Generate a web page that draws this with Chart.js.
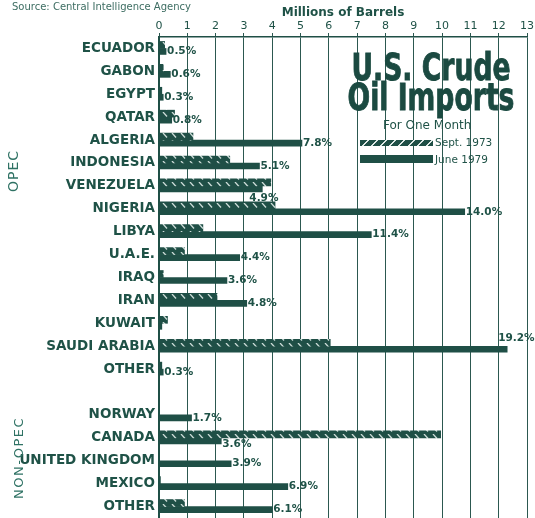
<!DOCTYPE html>
<html>
<head>
<meta charset="utf-8">
<script src="https://cdn.jsdelivr.net/npm/chart.js@4.4.1/dist/chart.umd.min.js"></script>
<style>
  html, body { margin:0; padding:0; background:#fff; }
  #wrap { position:relative; width:535px; height:518px; overflow:hidden; background:#fff; }
  #c { position:absolute; left:0; top:0; }
  .t { position:absolute; white-space:nowrap; color:#1f5247; font-family:"DejaVu Sans", sans-serif; }
  .rot { transform:translate(-50%,-50%) rotate(-90deg); transform-origin:center; }
</style>
</head>
<body>
<div id="wrap">
  <canvas id="c" width="535" height="518"></canvas>
  <div class="t" style="left:12px;top:1px;font-size:10px;color:#3d6d62;">Source: Central Intelligence Agency</div>
  <div class="t rot" style="left:13px;top:171px;font-size:14px;letter-spacing:1px;color:#2f7264;">OPEC</div>
  <div class="t rot" style="left:18px;top:458px;font-size:13px;letter-spacing:1.5px;color:#2f7264;">NON-OPEC</div>
  <div class="t" id="ttl" style="left:281px;top:53px;width:300px;text-align:center;font-size:37px;font-weight:bold;line-height:30px;color:#1b4a41;-webkit-text-stroke:0.9px #1b4a41;transform:scaleX(0.72);transform-origin:center;">U.S. Crude<br>Oil Imports</div>
  <div class="t" style="left:383px;top:118px;font-size:12px;">For One Month</div>
  <div style="position:absolute;left:360px;top:140px;width:73px;height:6px;background:repeating-linear-gradient(135deg,#1f4f46 0px,#1f4f46 5px,#dfe9e6 5px,#dfe9e6 6.5px);"></div>
  <div class="t" style="left:435px;top:136px;font-size:10.5px;">Sept. 1973</div>
  <div style="position:absolute;left:360px;top:155px;width:73px;height:8px;background:#1f4f46;"></div>
  <div class="t" style="left:435px;top:153px;font-size:10.5px;">June 1979</div>
</div>
<script>
// ---- data ----
const categories = ['ECUADOR','GABON','EGYPT','QATAR','ALGERIA','INDONESIA','VENEZUELA','NIGERIA','LIBYA','U.A.E.','IRAQ','IRAN','KUWAIT','SAUDI ARABIA','OTHER','','NORWAY','CANADA','UNITED KINGDOM','MEXICO','OTHER'];
const sept1973 = [0.2, 0.15, 0.1, 0.55, 1.2, 2.5, 3.95, 4.1, 1.55, 0.9, 0.15, 2.05, 0.3, 6.05, 0.1, null, 0, 9.95, 0, 0.05, 0.9];
const june1979 = [0.25, 0.4, 0.15, 0.45, 5.05, 3.55, 3.65, 10.8, 7.5, 2.85, 2.4, 3.1, 0.1, 12.3, 0.15, null, 1.15, 2.2, 2.55, 4.55, 4.0];
const pctLabels = ['0.5%','0.6%','0.3%','0.8%','7.8%','5.1%','4.9%','14.0%','11.4%','4.4%','3.6%','4.8%','','19.2%','0.3%','','1.7%','3.6%','3.9%','6.9%','6.1%'];
const xTicks = [0,1,2,3,4,5,6,7,8,9,10,11,12,13];

// ---- styles ----
const INK = '#1f4f46';
const TXT = '#1f5247';
const GRID = '#2c5850';
const labelOffsets = { 6: {dx:-14, dy:9}, 13: {dx:-10, dy:-11}, 17: {dx:0, dy:3} };

function hatch() {
  const pc = document.createElement('canvas');
  pc.width = 9; pc.height = 7;
  const p = pc.getContext('2d');
  p.fillStyle = INK; p.fillRect(0,0,9,7);
  p.strokeStyle = 'rgba(225,236,233,0.9)';
  p.lineWidth = 1.3;
  p.beginPath(); p.moveTo(1,0); p.lineTo(5,4.5); p.stroke();
  return p.createPattern(pc, 'repeat');
}

const pctPlugin = {
  id: 'pct',
  afterDatasetsDraw(chart) {
    const ctx = chart.ctx;
    const meta = chart.getDatasetMeta(1);
    ctx.save();
    ctx.font = 'bold 10.5px "DejaVu Sans"';
    ctx.fillStyle = TXT;
    ctx.textBaseline = 'middle';
    ctx.textAlign = 'left';
    meta.data.forEach((el, i) => {
      const lab = pctLabels[i];
      if (!lab) return;
      const o = labelOffsets[i] || {dx:0, dy:0};
      ctx.fillText(lab, el.x + 1 + o.dx, el.y + o.dy);
    });
    ctx.restore();
  }
};

new Chart(document.getElementById('c'), {
  type: 'bar',
  data: {
    labels: categories,
    datasets: [
      { label: 'Sept. 1973', data: sept1973, backgroundColor: hatch(), barThickness: 7, borderWidth: 0 },
      { label: 'June 1979', data: june1979, backgroundColor: INK, barThickness: 6, borderWidth: 0 }
    ]
  },
  options: {
    indexAxis: 'y',
    responsive: false,
    animation: false,
    devicePixelRatio: 1,
    layout: { padding: { left: 0, right: 8, top: 0, bottom: -2 } },
    plugins: { legend: { display: false }, tooltip: { enabled: false } },
    scales: {
      x: {
        type: 'linear',
        position: 'top',
        min: 0, max: 13,
        afterBuildTicks: (s) => { s.ticks = xTicks.map(v => ({ value: v })); },
        ticks: { color: TXT, font: { family: 'DejaVu Sans', size: 11 }, padding: 0, maxRotation: 0 },
        grid: { color: GRID, lineWidth: 1, drawTicks: true, tickLength: 4, tickColor: GRID },
        border: { display: true, color: INK, width: 1.5 },
        title: { display: true, text: 'Millions of Barrels', color: TXT, font: { family: 'DejaVu Sans', size: 12, weight: 'bold' }, padding: { top: 6, bottom: 0 } },
        afterFit: (s) => { s.height = 37; }
      },
      y: {
        type: 'category',
        grid: { display: false, drawTicks: false },
        border: { display: true, color: INK, width: 2 },
        ticks: { color: TXT, font: { family: 'DejaVu Sans', size: 13.5, weight: 'bold' }, padding: 4, autoSkip: false },
        afterFit: (s) => { s.width = 159; s.paddingTop = 0; s.paddingBottom = 0; }
      }
    }
  },
  plugins: [pctPlugin]
});
</script>
</body>
</html>
